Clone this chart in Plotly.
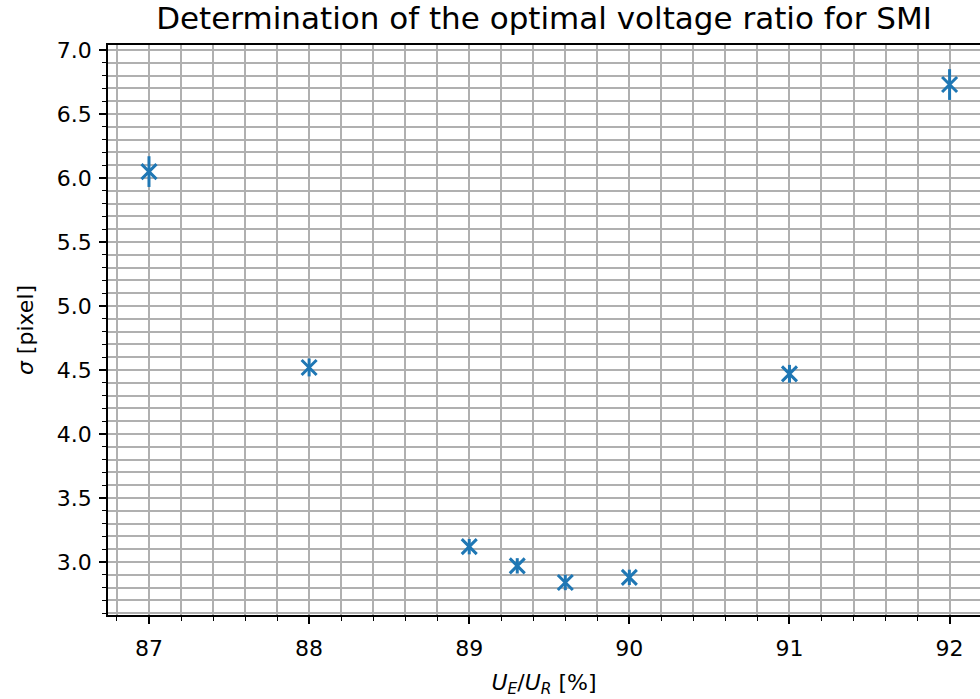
import plotly.graph_objects as go

# Measured voltage ratio U_E/U_R [%] and resulting spot width sigma [pixel]
ratio = [87.0, 88.0, 89.0, 89.3, 89.6, 90.0, 91.0, 92.0]
sigma = [6.05, 4.52, 3.12, 2.97, 2.84, 2.88, 4.47, 6.73]
sigma_err = [0.12, 0.07, 0.06, 0.06, 0.06, 0.06, 0.07, 0.12]

BLUE = "#1f77b4"
GRID = "#b0b0b0"
FONT = "DejaVu Sans"

fig = go.Figure(
    go.Scatter(
        x=ratio,
        y=sigma,
        mode="markers",
        marker=dict(symbol="x-thin", size=15, line=dict(width=3, color=BLUE), color=BLUE),
        error_y=dict(type="data", array=sigma_err, visible=True, color=BLUE, thickness=3, width=0),
        showlegend=False,
    )
)

axis_common = dict(
    showline=True,
    linecolor="black",
    linewidth=1.8,
    ticks="outside",
    ticklen=7,
    tickwidth=1.6,
    tickcolor="black",
    showgrid=True,
    gridcolor=GRID,
    gridwidth=1.8,
    zeroline=False,
    tickfont=dict(family=FONT, size=22, color="black"),
)

minor_common = dict(ticks="outside", ticklen=4, tickwidth=1.4, tickcolor="black",
                    showgrid=True, gridcolor=GRID, gridwidth=1.8)

fig.update_xaxes(
    **axis_common,
    range=[86.744, 92.19],
    tick0=87,
    dtick=1,
    mirror=True,
    ticklabelstandoff=6,
    minor=dict(dtick=0.2, **minor_common),
    title=dict(text="<i>U</i><sub><i>E</i></sub>/<i>U</i><sub><i>R</i></sub> [%]",
               font=dict(family=FONT, size=22, color="black"), standoff=14),
)

fig.update_yaxes(
    **axis_common,
    range=[2.586, 7.039],
    tick0=3,
    dtick=0.5,
    tickformat=".1f",
    ticklabelstandoff=3,
    minor=dict(dtick=0.1, **minor_common),
    title=dict(text="<i>σ</i> [pixel]", font=dict(family=FONT, size=22, color="black"), standoff=17),
)

fig.update_layout(
    width=980,
    height=699,
    margin=dict(l=108, r=0, t=45, b=84),
    paper_bgcolor="white",
    plot_bgcolor="white",
    title=dict(
        text="Determination of the optimal voltage ratio for SMI",
        font=dict(family=FONT, size=31, color="black"),
        x=0.5,
        xref="paper",
        y=1 - 18 / 699,
        yref="container",
        yanchor="middle",
    ),
)

fig.write_html("out.html")
